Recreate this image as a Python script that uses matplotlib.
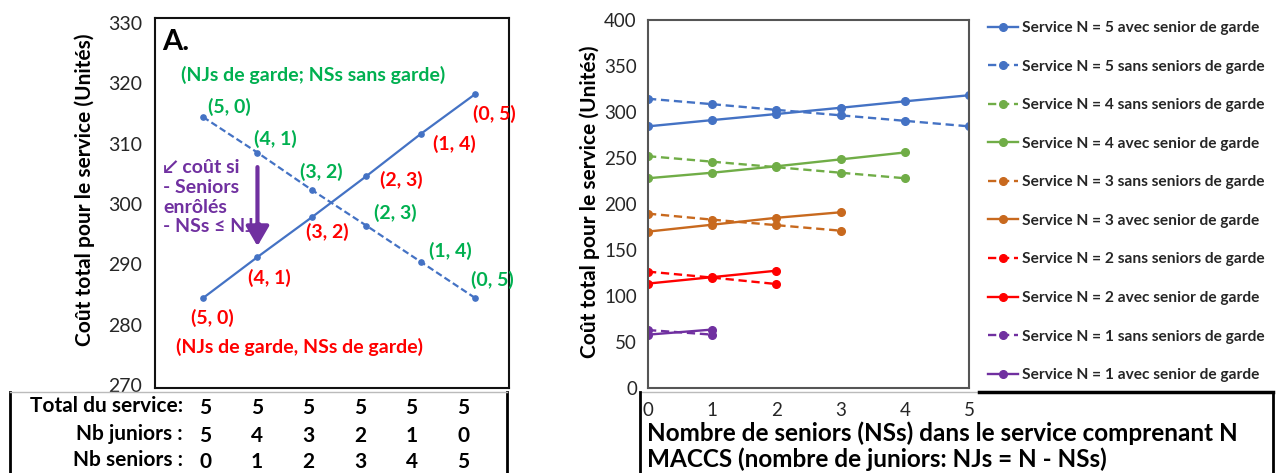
import numpy as np
import matplotlib
matplotlib.use("Agg")
import matplotlib.pyplot as plt

plt.rcParams['font.family'] = ['Lato', 'DejaVu Sans']

# ---- data ----
seniors = [0, 1, 2, 3, 4, 5]
couples = ["(5, 0)", "(4, 1)", "(3, 2)", "(2, 3)", "(1, 4)", "(0, 5)"]
cout_avec = [284.4, 291.2, 297.8, 304.6, 311.6, 318.2]   # NJs de garde, NSs de garde
cout_sans = [314.4, 308.5, 302.3, 296.4, 290.4, 284.4]   # NJs de garde, NSs sans garde

total_service = [5, 5, 5, 5, 5, 5]
nb_juniors = [5, 4, 3, 2, 1, 0]
nb_seniors = [0, 1, 2, 3, 4, 5]

n5_avec = [284.4, 291.2, 297.8, 304.6, 311.6, 318.2]
n5_sans = [314.4, 308.5, 302.3, 296.4, 290.4, 284.4]
n4_avec = [228, 234, 241, 248.5, 256]
n4_sans = [252, 246, 240, 234, 228]
n3_avec = [170, 177.5, 185, 191]
n3_sans = [189.5, 183, 177, 171]
n2_avec = [113.5, 120.5, 127.5]
n2_sans = [126.5, 120, 113]
n1_avec = [58, 63.5]
n1_sans = [63, 58]

BLUE = '#4472C4'
GREEN = '#70AD47'
ORANGE = '#C8691E'
RED = '#FF0000'
PURPLE = '#7030A0'
TXT_GREEN = '#00B050'

W, H = 1278, 473
fig = plt.figure(figsize=(W / 100, H / 100), dpi=100)


def box(x0, y0, x1, y1):
    # pixel box (top-left origin) -> figure fraction rect
    return [x0 / W, 1 - y1 / H, (x1 - x0) / W, (y1 - y0) / H]


# ================= panel A =================
ax = fig.add_axes(box(155, 18, 509, 388))
ax.plot(seniors, cout_avec, '-', color=BLUE, lw=1.6, marker='o', ms=3.8)
ax.plot(seniors, cout_sans, '--', color=BLUE, lw=1.6, marker='o', ms=3.8, dashes=(3, 1.5))
ax.set_xlim(-0.882, 5.62)
ax.set_ylim(269.5, 330.8)
ax.set_yticks(np.arange(270, 331, 10))
ax.set_xticks([])
ax.tick_params(axis='y', length=0, pad=9, labelsize=14, labelcolor='#262626')
for s in ax.spines.values():
    s.set_color('#111111')
    s.set_linewidth(1.5)

off_sans = [(26, 10), (18, 14), (9, 18), (29, 13), (30, 11), (17, 18)]
off_avec = [(9, -20), (12, -21), (15, -15), (35, -4), (34, -10), (19, -20)]
for i, lab in enumerate(couples):
    ax.annotate(lab, (seniors[i], cout_sans[i]), xytext=off_sans[i], textcoords='offset pixels',
                ha='center', va='center', color=TXT_GREEN, fontsize=14, fontweight='bold')
    ax.annotate(lab, (seniors[i], cout_avec[i]), xytext=off_avec[i], textcoords='offset pixels',
                ha='center', va='center', color=RED, fontsize=14, fontweight='bold')

ax.text(2.02, 321.4, "(NJs de garde; NSs sans garde)", ha='center', va='center',
        color=TXT_GREEN, fontsize=14, fontweight='bold')
ax.text(1.78, 276.3, "(NJs de garde, NSs de garde)", ha='center', va='center',
        color=RED, fontsize=14, fontweight='bold')
ax.text(0.02, 0.935, "A.", transform=ax.transAxes, ha='left', va='center',
        fontsize=21, fontweight='bold', color='black')
ax.text(-0.735, 301.1, "\u2199 coût si\n- Seniors\nenrôlés\n- NSs \u2264 NJs", ha='left', va='center',
        color=PURPLE, fontsize=14, fontweight='bold', linespacing=1.2)
ax.annotate('', xy=(1, 293.0), xytext=(1, 306.1),
            arrowprops=dict(arrowstyle='-|>,head_length=0.6,head_width=0.35', lw=3,
                            color=PURPLE, mutation_scale=20, shrinkA=0, shrinkB=0))

fig.text(85 / W, 1 - 190 / H, "Coût total pour le service (Unités)", rotation=90,
         ha='center', va='center', fontsize=15, fontweight='bold')

# table under panel A
tab = fig.add_axes(box(10, 392, 507, 473))
tab.set_xlim(-3.78, 5.85)
tab.set_ylim(81, 0)
tab.set_xticks([])
tab.set_yticks([])
tab.spines['bottom'].set_visible(False)
tab.spines['top'].set_color('#BBBBBB')
tab.spines['top'].set_linewidth(1)
tab.spines['left'].set_linewidth(2)
tab.spines['right'].set_linewidth(2)
tab.patch.set_alpha(0)
rows = [("Total du service:", total_service, 14),
        ("Nb juniors :", nb_juniors, 42),
        ("Nb seniors :", nb_seniors, 68)]
for lab, vals, yy in rows:
    tab.text(-0.43, yy, lab, ha='right', va='center', fontsize=15, fontweight='bold')
    for i, v in enumerate(vals):
        tab.text(i, yy + 2, str(v), ha='center', va='center', fontsize=15, fontweight='bold')

# ================= right panel =================
ax2 = fig.add_axes(box(648, 20, 969, 388))
series = [
    ("Service N = 5 avec senior de garde", n5_avec, BLUE, '-'),
    ("Service N = 5 sans seniors de garde", n5_sans, BLUE, '--'),
    ("Service N = 4 sans seniors de garde", n4_sans, GREEN, '--'),
    ("Service N = 4 avec senior de garde", n4_avec, GREEN, '-'),
    ("Service N = 3 sans seniors de garde", n3_sans, ORANGE, '--'),
    ("Service N = 3 avec senior de garde", n3_avec, ORANGE, '-'),
    ("Service N = 2 sans seniors de garde", n2_sans, RED, '--'),
    ("Service N = 2 avec senior de garde", n2_avec, RED, '-'),
    ("Service N = 1 sans seniors de garde", n1_sans, PURPLE, '--'),
    ("Service N = 1 avec senior de garde", n1_avec, PURPLE, '-'),
]
handles = []
for lab, vals, col, ls in series:
    kw = dict(dashes=(3.5, 2)) if ls == '--' else {}
    h, = ax2.plot(range(len(vals)), vals, ls, color=col, lw=1.7, marker='o', ms=5.5, label=lab, **kw)
    handles.append(h)
ax2.set_xlim(0, 5)
ax2.set_ylim(0, 400)
ax2.set_yticks(np.arange(0, 401, 50))
ax2.set_xticks(range(6))
ax2.tick_params(axis='y', length=0, pad=8, labelsize=13.5, labelcolor='#262626')
ax2.tick_params(axis='x', length=0, pad=10, labelsize=13.5, labelcolor='#262626')
for s in ax2.spines.values():
    s.set_color('#555555')
    s.set_linewidth(1.5)

fig.text(590 / W, 1 - 202 / H, "Coût total pour le service (Unités)", rotation=90,
         ha='center', va='center', fontsize=15, fontweight='bold')

leg = fig.legend(handles=handles, loc='upper left', bbox_to_anchor=(988 / W, 1 - 21 / H),
                 frameon=False, fontsize=11.2, handlelength=1.9, handletextpad=0.3,
                 labelspacing=1.58, borderpad=0, borderaxespad=0)
for t in leg.get_texts():
    t.set_color('#262626')
    t.set_fontweight('bold')

# box holding the x label
xb = fig.add_axes(box(640, 392, 1273, 473))
xb.set_xlim(0, 1)
xb.set_ylim(0, 1)
xb.set_xticks([])
xb.set_yticks([])
xb.patch.set_alpha(0)
xb.spines['bottom'].set_visible(False)
xb.spines['top'].set_visible(False)
xb.spines['left'].set_linewidth(2)
xb.spines['right'].set_linewidth(2)
xb.plot([0, 0.535], [1, 1], color='#BBBBBB', lw=1, clip_on=False)
xb.plot([0.535, 1], [1, 1], color='black', lw=2.5, clip_on=False)
xb.text(7 / 633, 0.33, "Nombre de seniors (NSs) dans le service comprenant N\nMACCS (nombre de juniors: NJs = N - NSs)",
        ha='left', va='center', fontsize=17.5, fontweight='bold', linespacing=1.12,
        transform=xb.transAxes)

fig.savefig("out.png", dpi=100)
